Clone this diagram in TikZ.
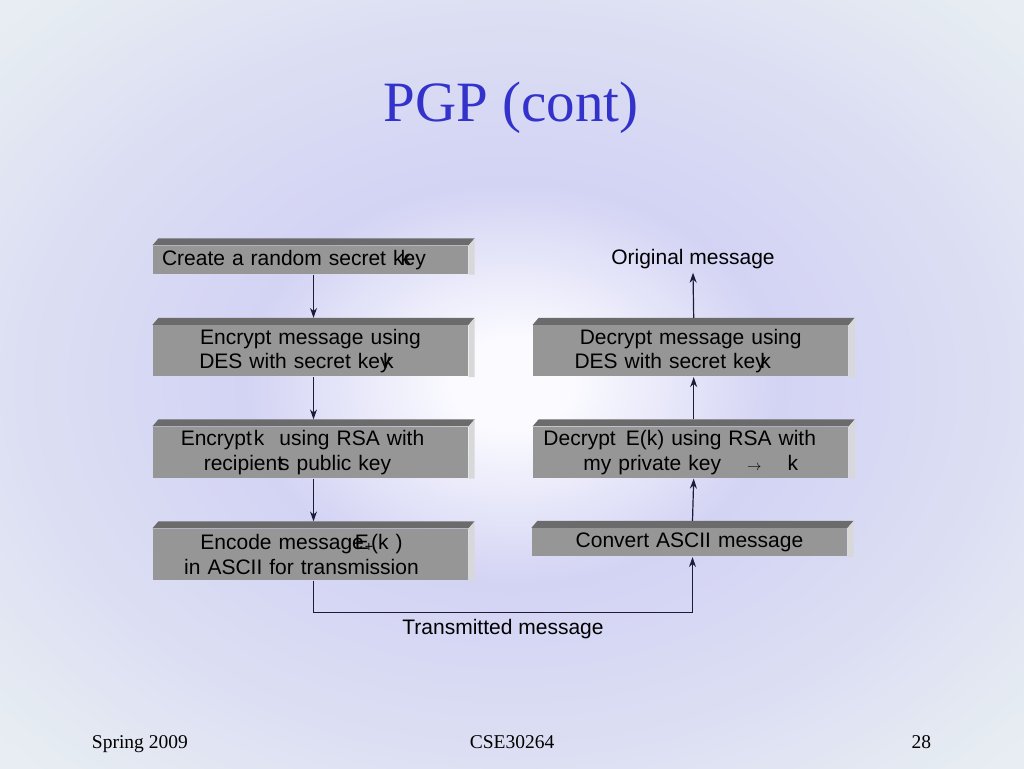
\documentclass[tikz,border=0pt]{standalone}
\usepackage{fontspec}
\setmainfont{Liberation Serif}
\newfontfamily\boxfont{Liberation Sans}
\usetikzlibrary{arrows,arrows.meta,positioning}

\definecolor{bgcentre}{HTML}{FAFAFF}
\definecolor{bglav}{HTML}{D3D3F4}
\definecolor{bgmid}{HTML}{DCDFF3}
\definecolor{bgedge}{HTML}{E6ECF2}
\definecolor{bgcorner}{HTML}{EFF6F2}
\definecolor{titleblue}{HTML}{3333CC}
\definecolor{boxface}{HTML}{969696}
\definecolor{boxtop}{HTML}{6B6B6B}
\definecolor{boxside}{HTML}{D8D8D8}
\definecolor{wire}{HTML}{1C1C38}

\pgfdeclareradialshading{slideback}{\pgfpoint{0bp}{0bp}}{%
  color(0bp)=(bgcentre); color(3bp)=(bgcentre); color(13bp)=(bglav);
  color(24bp)=(bgmid); color(33bp)=(bgedge); color(48bp)=(bgcorner)}

\newcommand{\keyarrow}{{\fontsize{15}{15}\selectfont$\rightarrow$}}

\begin{document}
\begin{tikzpicture}[x=1pt,y=1pt,->,>={Stealth[length=10pt,width=7pt]},line width=1.2pt,wire]
  \tikzstyle{box}=[draw=none,fill=boxface,text=black,font=\boxfont\fontsize{21}{24.5}\selectfont,
                   minimum width=315pt,minimum height=51pt,inner xsep=9pt,inner ysep=-1pt,
                   text width=297pt,align=center]
  \tikzstyle{label}=[text=black,font=\boxfont\fontsize{21}{24.5}\selectfont]
  \tikzstyle{foot}=[text=black,font=\fontsize{19.5}{22}\selectfont,anchor=base]

  % background
  \useasboundingbox (0,0) rectangle (1024,768);
  \shade[shading=slideback,draw=none] (0,0) rectangle (1024,768);

  \node[text=titleblue,font=\fontsize{57}{60}\selectfont,anchor=base] (title) at (511,646) {PGP (cont)};

  % sender
  \node[box,minimum height=28pt,inner ysep=0pt,align=left] (create) at (310.5,508) {Create a random secret k\rlap{\kern-3pt k}ey};
  \node[box] (encdes) at (310.5,417) {Encrypt message using\\ DES with secret ke\rlap{y}\kern3pt k\kern28pt};
  \node[box] (encrsa) at (310.5,315.5) {Encrypt\kern2pt k\kern15pt using RSA with\kern16pt\\ recipient\kern-4pt s public key\kern26pt};
  \node[box] (encode) at (310.5,213.5) {Encode message\kern-9pt E\kern-4pt\raisebox{-2pt}{\fontsize{14}{14}\selectfont +}\kern-2pt(k )\kern18pt\\ in ASCII for transmission\kern18pt};

  % receiver
  \node[box] (decdes) [right=64pt of encdes] {Decrypt message using\\ DES with secret ke\rlap{y}\kern5pt k\kern36pt};
  \node[box] (decrsa) [right=64pt of encrsa] {Decrypt\kern10pt E(k) using RSA with\kern22pt\\ my private key\kern26pt\keyarrow\kern26pt k};
  \node[box,minimum height=28pt,inner ysep=0pt] (convert) at (689.5,225.5) {Convert ASCII message};
  \node[label] (orig) at (693,509) {Original message};

  % bevels
  \foreach \b in {create,encdes,encrsa,encode,decdes,decrsa,convert}{
    \fill[boxtop,-] (\b.north west) -- ++(6,7) -- ([shift={(6,7)}]\b.north east) -- (\b.north east) -- cycle;
    \fill[boxside,-] (\b.north east) -- ++(6,7) -- ([xshift=6]\b.south east) -- (\b.south east) -- cycle;
  }

  % connectors
  \draw ([xshift=3]create.south) -- ([shift={(3,7)}]encdes.north);
  \draw ([xshift=3]encdes.south) -- ([shift={(3,7)}]encrsa.north);
  \draw ([xshift=3]encrsa.south) -- ([shift={(3,7)}]encode.north);
  \draw ([xshift=3]encode.south) -- ++(0,-32)
        -- node[label,below=3pt] (sent) {Transmitted message} ++(379,0)
        -- ([xshift=3]convert.south);
  \draw ([shift={(3,7)}]convert.north) -- ([xshift=3]decrsa.south);
  \draw ([shift={(3,7)}]decrsa.north) -- ([xshift=3]decdes.south);
  \draw ([shift={(3,7)}]decdes.north) -- (orig.south);

  % footer
  \node[foot,anchor=base west] (term) at (88,20) {Spring 2009};
  \node[foot] (course) at (512,20) {CSE30264};
  \node[foot,anchor=base east] (page) at (935,20) {28};
\end{tikzpicture}
\end{document}
